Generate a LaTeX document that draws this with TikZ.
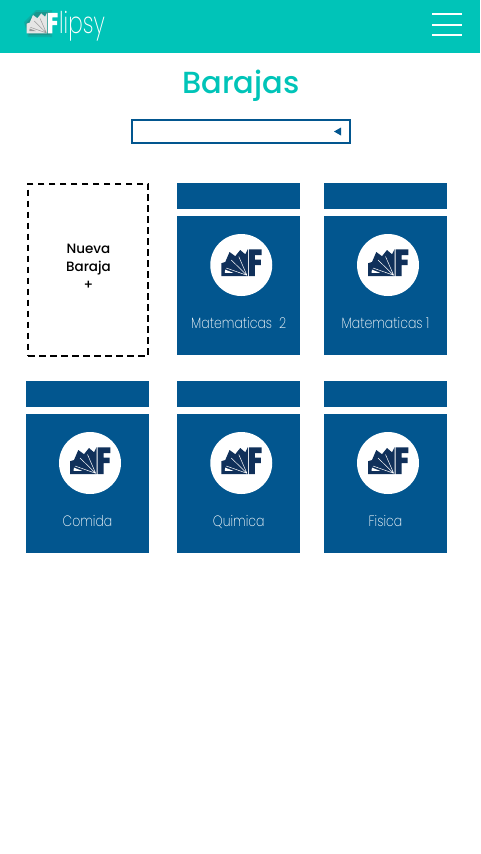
\documentclass[tikz,border=0pt]{standalone}
\usepackage{fontspec}
\setmainfont{Poppins}
\newfontfamily\thinfont{Poppins}[UprightFont=* ExtraLight]
\newfontfamily\medfont{Poppins}[UprightFont=* Medium]
\definecolor{tealbar}{HTML}{00C4B8}
\definecolor{cardblue}{HTML}{02568F}
\definecolor{logodark}{HTML}{10305A}
\tikzset{
  cardtop/.style={fill=cardblue,draw=none,minimum width=123,minimum height=26,inner sep=0},
  cardbody/.style={fill=cardblue,draw=none,minimum width=123,minimum height=139,inner sep=0},
  badge/.style={circle,fill=white,draw=none,minimum size=62,inner sep=0},
  cardlabel/.style={text=white,font=\thinfont\fontsize{15}{17}\selectfont,inner sep=0,anchor=base},
  navline/.style={white,line width=1.7},
}
% fan-and-F logo; #1 centre, #2 scale, #3 fan colour, #4 gap colour, #5 F colour
\newcommand{\fanlogo}[5]{%
  \begin{scope}[shift={#1},scale=#2]
    \fill[#3] (-20,-1.7) -- (-16,-3) -- (-11.7,-13) -- (-6,-8.8) -- (-1,-15) -- (4,-10.7) -- (6.7,-16) -- (6.7,11) -- (-20,11) -- cycle;
    \draw[#4,line width=0.5] (5.7,10.3) -- (-15,3) (5.7,10.3) -- (-10,-5) (5.7,10.3) -- (-2.5,-8.5);
    \fill[#4] (-16.5,7.8) -- (-8,7.8) -- (-16,4.6) -- cycle;
    \fill[#5] (7.7,-15.7) -- (20.3,-15.7) -- (20.3,-10) -- (13.5,-10) -- (13.5,-5.5) -- (19.5,-5.5) -- (19.5,0) -- (13.5,0) -- (13.5,11) -- (7.7,11) -- cycle;
  \end{scope}}
% #1 name, #2 card centre x, #3 badge centre y, #4 label
\newcommand{\deck}[4]{%
  \node[cardtop] (#1t) at (#2,#3-69) {};
  \node[cardbody] (#1b) at (#2,#3+20.7) {};
  \node[badge] (#1c) at (#2+2.5,#3) {};
  \fanlogo{(#1c.center)}{1}{logodark}{white}{logodark}
  \node[cardlabel] (#1l) at (#2,#3+63) {\scalebox{0.83}[1]{#4}};}
\begin{document}
\begin{tikzpicture}[x=1pt,y=-1pt]
  \useasboundingbox (0,0) rectangle (480,854);
  \fill[white] (0,0) rectangle (480,854);
  \fill[tealbar] (0,0) rectangle (480,52.5);
  % header logo
  \fill[black!70,opacity=.18] (24,22) -- (36,10) -- (52,10) -- (52,37) -- (28,37) -- cycle;
  \fill[black!70,opacity=.25] (25.5,24) -- (36,12) -- (50,12) -- (50,35) -- (29,35) -- cycle;
  \fanlogo{(42,25)}{0.77}{black!10}{black!40}{white}
  \node[text=white,font=\thinfont\fontsize{30}{30}\selectfont,inner sep=0,anchor=base west] (brand) at (59,33.5) {\scalebox{0.72}[1]{lipsy}};
  \draw[navline] (432,14) -- (461.5,14);
  \draw[navline] (432,24.7) -- (461.5,24.7);
  \draw[navline] (432,35.3) -- (461.5,35.3);
  % title
  \node[text=tealbar,font=\medfont\fontsize{30.5}{34}\selectfont,inner sep=0] (title) at (241,85.5) {Barajas};
  % select box
  \node[draw=cardblue,line width=1.8,fill=white,minimum width=217.5,minimum height=23,inner sep=0] (select) at (241,131.5) {};
  \fill[cardblue] (334,131.5) -- (341,127.5) -- (341,135.5) -- cycle;
  % new deck
  \node[draw=black,line width=2,dash pattern=on 6.5 off 4.5,minimum width=120,minimum height=172,inner sep=0] (new) at (88.3,269.5) {};
  \node[font=\medfont\fontsize{13.5}{18}\selectfont,align=center,inner sep=0,text=black] (newl) at (88.5,267) {Nueva\\Baraja\\+};
  % decks
  \deck{a}{238.75}{265}{Matematicas\ \ 2}
  \deck{b}{385.5}{265}{Matematicas\ 1}
  \deck{c}{87.5}{463}{Comida}
  \deck{d}{238.75}{463}{Quimica}
  \deck{e}{385.5}{463}{Fisica}
\end{tikzpicture}
\end{document}
